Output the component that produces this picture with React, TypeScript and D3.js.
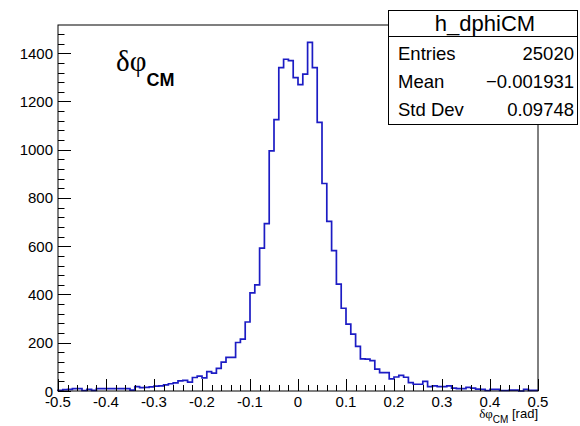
import React from "react";
import * as d3 from "d3";

const binLow = -0.5;
const binWidth = 0.01;
const counts: number[] = [
  3, 6, 7, 10, 10, 2, 7, 3, 10, 10,
  10, 10, 10, 10, 10, 4, 18, 14, 15, 17,
  20, 21, 25, 30, 34, 42, 44, 37, 56, 62,
  54, 80, 74, 94, 120, 139, 139, 201, 215, 286,
  407, 440, 592, 694, 995, 1125, 1340, 1375, 1369, 1299,
  1270, 1313, 1445, 1340, 1113, 860, 703, 582, 443, 343,
  277, 236, 185, 133, 132, 126, 91, 76, 76, 50,
  58, 65, 57, 35, 28, 28, 40, 18, 21, 18,
  18, 21, 12, 10, 10, 15, 12, 8, 7, 2,
  7, 7, 2, 2, 4, 4, 0, 7, 3, 3,
];
const xTickLabels = ["-0.5", "-0.4", "-0.3", "-0.2", "-0.1", "0", "0.1", "0.2", "0.3", "0.4", "0.5"];
const yTickLabels = ["0", "200", "400", "600", "800", "1000", "1200", "1400"];
const statsTitle = "h_dphiCM";
const statsNames = ["Entries", "Mean", "Std Dev"];
const statsValues = ["25020", "\u22120.001931", "0.09748"];

const W = 580;
const H = 426;
const fL = 58, fR = 538, fT = 25, fB = 391;
const yMax = 1517;

export default function App() {
  const x = d3.scaleLinear().domain([-0.5, 0.5]).range([fL, fR]);
  const y = d3.scaleLinear().domain([0, yMax]).range([fB, fT]);

  const pts: [number, number][] = [[binLow, 0]];
  counts.forEach((c, i) => pts.push([binLow + i * binWidth, c]));
  pts.push([binLow + counts.length * binWidth, 0]);
  const line = d3
    .line<[number, number]>()
    .x((d) => x(d[0]))
    .y((d) => y(d[1]))
    .curve(d3.curveStepAfter);

  const xMinor = d3.range(0, 51).map((k) => -0.5 + k * 0.02);
  const yMinor = d3.range(0, yMax, 40);

  const font = "'Liberation Sans', Arial, Helvetica, sans-serif";

  return (
    <svg
      width={W}
      height={H}
      style={{ position: "absolute", left: 0, top: 0, background: "#fff" }}
      fontFamily={font}
    >
      <rect x={0} y={0} width={W} height={H} fill="#fff" />
      {/* histogram */}
      <path d={line(pts) || ""} fill="none" stroke="#1c1cc4" strokeWidth={1.7} />
      {/* frame */}
      <rect x={fL} y={fT} width={fR - fL} height={fB - fT} fill="none" stroke="#000" strokeWidth={1} />
      {/* x ticks */}
      {xMinor.map((v, k) => {
        const major = k % 5 === 0;
        const px = Math.round(x(v)) + 0.5;
        return (
          <line key={"xt" + k} x1={px} x2={px} y1={fB} y2={fB - (major ? 12 : 6)} stroke="#000" strokeWidth={1} />
        );
      })}
      {xTickLabels.map((t, k) => (
        <text key={"xl" + k} x={x(-0.5 + k * 0.1)} y={407} fontSize={15} textAnchor="middle" fill="#000">
          {t}
        </text>
      ))}
      {/* y ticks */}
      {yMinor.map((v, k) => {
        const major = k % 5 === 0;
        const py = Math.round(y(v)) + 0.5;
        return (
          <line key={"yt" + k} x1={fL} x2={fL + (major ? 13 : 6.5)} y1={py} y2={py} stroke="#000" strokeWidth={1} />
        );
      })}
      {yTickLabels.map((t, k) => (
        <text key={"yl" + k} x={53} y={y(k * 200) + 5.5} fontSize={15} textAnchor="end" fill="#000">
          {t}
        </text>
      ))}
      {/* x axis title */}
      <text x={fR} y={418} fontSize={13} textAnchor="end" fill="#000">
        <tspan fontFamily="'Liberation Serif', 'DejaVu Serif', serif">δφ</tspan>
        <tspan fontSize={10} dy={5}>CM</tspan>
        <tspan dy={-5}> [rad]</tspan>
      </text>
      {/* in-plot label */}
      <text x={116} y={71} fill="#000">
        <tspan fontFamily="'Liberation Serif', 'DejaVu Serif', serif" fontSize={29}>δφ</tspan>
        <tspan fontSize={18} fontWeight="bold" dy={15}>CM</tspan>
      </text>
      {/* stats box */}
      <rect x={388.5} y={10.5} width={189} height={114} fill="#fff" stroke="#000" strokeWidth={1} />
      <line x1={388.5} x2={577.5} y1={36.5} y2={36.5} stroke="#000" strokeWidth={1} />
      <text x={485} y={30.5} fontSize={22} textAnchor="middle" fill="#000">
        {statsTitle}
      </text>
      {statsNames.map((n, k) => (
        <g key={"st" + k}>
          <text x={398} y={60 + k * 27.8} fontSize={18.5} fill="#000">
            {n}
          </text>
          <text x={574} y={60 + k * 27.8} fontSize={18.5} textAnchor="end" fill="#000">
            {statsValues[k]}
          </text>
        </g>
      ))}
    </svg>
  );
}
